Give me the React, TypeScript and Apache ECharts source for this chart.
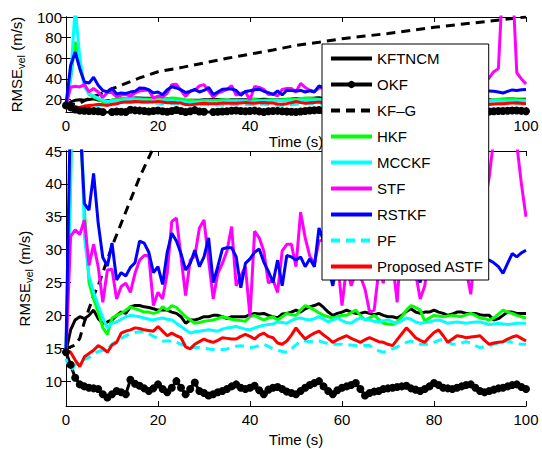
import React, { useEffect, useRef } from "react";
import * as echarts from "echarts";

// time axis (s)
const time = Array.from({ length: 101 }, (_, i) => i);

const kftncm = [14.5, 17.8, 19.3, 19.8, 19.5, 20, 20.8, 19.5, 18.8, 19, 19.3, 20, 20.5, 20.3, 21.3, 21.5, 21.5, 21.3, 21.2, 21, 20.8, 20.8, 20.8, 20.5, 20.3, 19.8, 18.8, 19.3, 19.3, 19.5, 19.8, 19.8, 20, 20, 19.8, 19.5, 19.8, 19.8, 19.8, 19.8, 20.1, 20.3, 20.2, 20.3, 20, 19.8, 19.6, 20.2, 20.3, 20.5, 20.8, 20.5, 21, 21.3, 21.5, 21.8, 21.2, 20.5, 20, 20.3, 20.5, 20.8, 20.5, 20.3, 20.3, 20.5, 20.3, 20.1, 20.3, 20, 19.8, 19.8, 19.6, 20, 20.6, 21, 20.5, 20.3, 20.5, 20.5, 20.8, 20.5, 20.3, 20, 20.2, 20.5, 20.5, 20.3, 20.3, 20.3, 20.1, 20, 20, 19.3, 19.5, 20, 20.5, 20.5, 20.3, 20.3, 20.3];
const okf = [14.4, 12.5, 10.5, 9.5, 9.2, 9, 8.9, 8.8, 8, 7.5, 8, 8.5, 8.3, 8, 10.2, 9.6, 9.3, 8.9, 8.5, 8.9, 9.5, 8.8, 8.3, 9, 10, 9, 8, 8.8, 9.8, 8.5, 8.2, 7.8, 8, 8.3, 8.5, 8.8, 9.2, 9.5, 9, 8.8, 9, 9.3, 8.6, 8, 8.7, 9, 9.1, 8.8, 8.4, 8.2, 8, 8.5, 9, 9.4, 9.7, 10, 9.2, 8.5, 8, 8.6, 9, 9.2, 9.4, 9.7, 8.8, 7.8, 8.2, 8.4, 8.5, 8.8, 8.9, 9, 9.1, 9.2, 9.3, 8.9, 8.7, 8.5, 8.8, 9.2, 9.7, 9.4, 9, 8.9, 8.8, 9, 9.2, 9.4, 9.5, 9, 8.5, 8.3, 8.5, 8.7, 8.9, 9, 9.2, 9.4, 9.5, 9.1, 8.8];
const kfgTime = [0, 1, 2, 3, 4, 5, 6, 7, 8, 9, 10, 12, 14, 16, 18, 20, 25, 30, 35, 40, 45, 50, 55, 60, 65, 70, 75, 80, 85, 90, 95, 100];
const kfg = [15, 15.2, 15.5, 16.5, 19, 21, 23, 24.5, 26.5, 28.5, 30.5, 34, 37.5, 41, 44, 47, 51, 55.5, 60, 64, 68, 72.5, 75.5, 79, 81.5, 84, 87, 90, 92.5, 95, 97.5, 100];
const hkf = [15, 40, 76, 50, 36, 25, 22.5, 20.5, 18.1, 17.1, 19.6, 20, 20.3, 20.8, 21.3, 21, 20.8, 20.5, 20.5, 20.3, 20.5, 21.3, 20.8, 21.5, 21.2, 20.5, 19.8, 19.3, 18.8, 18.9, 19.1, 19.2, 19.3, 19.5, 19.8, 19.6, 19.4, 19.3, 19.2, 19.1, 19.8, 20, 19.6, 19.3, 19.6, 19.8, 19.3, 19.8, 20.3, 20.1, 20, 20.8, 21.5, 21.2, 20.8, 20.4, 20, 19.8, 19.6, 19.8, 20, 20, 20.4, 20.8, 20, 19.3, 19.6, 20, 19.4, 18.8, 18.7, 18.6, 19, 19.8, 20.8, 21.5, 21.2, 20.8, 19.1, 19.6, 20, 19.9, 19.8, 19.9, 20, 19.9, 19.8, 20.1, 20.3, 20, 19.6, 19.5, 19.3, 19.6, 20.2, 20.8, 20.5, 20.3, 20, 19.8, 19.6];
const mcckf = [14, 40, 110, 60, 32, 26, 23.5, 21.5, 19.6, 18.1, 18.8, 19, 19.4, 19.8, 20, 19.9, 19.8, 19.6, 19.4, 19.3, 19.5, 19.6, 19.4, 19.3, 18.8, 18.3, 17.8, 17.3, 17.5, 17.6, 17.7, 17.8, 17.7, 17.6, 17.9, 18.1, 18.2, 18.3, 18.1, 17.9, 17.8, 18.1, 18.3, 18.5, 18.6, 18.7, 19, 18.9, 18.8, 19.2, 19.5, 19.6, 19.4, 19.3, 19.5, 19.8, 19.4, 19, 19.3, 19.6, 19.2, 18.9, 18.8, 19.3, 19.6, 19.4, 19.3, 19.1, 19, 19.2, 19.3, 19, 18.8, 19.2, 19.6, 19.4, 19, 18.8, 18.9, 19, 19.2, 19.3, 19.1, 18.8, 18.9, 19, 18.9, 18.8, 18.9, 19, 19, 18.8, 18.6, 18.7, 18.8, 18.7, 18.6, 18.7, 18.8, 18.8, 18.8];
const stf = [14, 32, 33, 32.3, 34.5, 27.6, 30.8, 27.4, 22, 26.9, 27, 22.5, 24.4, 24.9, 23.5, 26.4, 28.4, 29.1, 29.1, 21.5, 23.5, 22.5, 26.4, 34.3, 34.8, 28.9, 23, 28.4, 29, 33.3, 34.5, 28.4, 22.5, 26.4, 27.9, 29.8, 33.5, 24.5, 26, 27.4, 19.8, 32.8, 31.8, 29.8, 24.9, 25.4, 23.5, 29.8, 30.8, 30.8, 27.4, 35.7, 31.8, 29, 27.9, 31.3, 31.5, 31.8, 26.4, 28.4, 21.5, 27.4, 24.5, 26.4, 25.9, 24, 20.5, 20.8, 26.9, 24.9, 34.3, 28.1, 22, 33, 32.8, 30.3, 26.4, 22.5, 24.5, 30.3, 29.9, 31.3, 29.1, 30.5, 31.8, 28.4, 27.4, 26.9, 23.2, 30.8, 33.5, 37, 41, 47, 50, 140, 160, 140, 46, 40, 35];
const rstkf = [15, 53, 66, 50, 37, 36, 41.6, 34, 28.8, 27.5, 31, 25.4, 26.5, 26, 27.3, 28, 31.3, 31, 29.6, 26.5, 27.4, 24.7, 29.6, 32.5, 31.3, 29.4, 26.9, 27.9, 29.9, 27.4, 28.9, 31.8, 25, 27.4, 30.1, 30.3, 30.3, 28.9, 24.2, 27.9, 28.6, 29.6, 30.1, 28.1, 26.7, 25, 28.4, 24.5, 29.1, 28.9, 28.4, 28.9, 27.4, 28.6, 27.4, 33.3, 31.3, 27.4, 24.5, 27.9, 27.4, 32.5, 30.8, 28.9, 27.9, 26.5, 25.9, 27.4, 28.9, 29.4, 33.8, 27.9, 26.4, 27.4, 31.3, 29.9, 27, 25, 28.9, 27.4, 29.4, 31.3, 27.9, 29.4, 29.9, 28.4, 33.5, 29.4, 25.9, 28.9, 32.1, 28.6, 28.4, 28, 27.4, 26.4, 27.9, 29.4, 28.9, 29.5, 29.9];
const pf = [13.4, 11.5, 12.5, 13, 13.3, 13.6, 14.1, 14.5, 14.7, 14.8, 15.6, 16.1, 16.5, 16.9, 17.2, 17.4, 17.5, 17.6, 17.2, 16.8, 16.5, 16.1, 16.1, 16.1, 15.9, 15.6, 15.4, 15.1, 15.1, 15.1, 15, 14.9, 14.8, 14.7, 14.8, 14.9, 15.1, 15.3, 15.4, 15.2, 15.1, 15.2, 15.4, 15.6, 15.3, 14.9, 14.7, 14.5, 14.4, 14.9, 15.5, 16.1, 16.1, 16, 16.1, 16.1, 15.9, 15.7, 15.6, 15.6, 15.6, 15.5, 15.5, 15.4, 15.4, 15.4, 15.4, 15, 14.6, 14.4, 14.6, 14.9, 15.2, 15.6, 15.9, 16.1, 15.8, 15.6, 15.6, 15.6, 15.9, 16.2, 16.4, 16, 15.6, 15.6, 15.8, 16, 15.8, 15.4, 15.1, 15.2, 15.4, 15.6, 15.8, 16, 16.1, 15.9, 15.7, 15.6, 15.6];
const astf = [14.7, 14.4, 13.2, 12.2, 13.7, 14.2, 14.7, 15.4, 15, 14.4, 15.5, 15.9, 17.3, 17.6, 17.8, 18.1, 18, 17.8, 17.7, 17.6, 18.3, 17.6, 16.9, 17.3, 16.9, 16.6, 15.2, 14.9, 15.6, 16, 16.4, 16.1, 15.9, 16.2, 16.6, 16.5, 16.4, 16.4, 16.8, 17.1, 16.8, 16.4, 17, 17.3, 16.8, 16.6, 15.8, 15.6, 16.1, 17, 18.1, 17.2, 16.4, 16.9, 17.3, 17.6, 17, 16.5, 15.9, 16.3, 16.6, 16.9, 16.5, 16.2, 15.9, 16.3, 16.6, 16.3, 16, 15.9, 15.6, 15.4, 16.3, 17.2, 18.1, 17.4, 16.6, 16.2, 15.9, 16.7, 17.4, 17.8, 16.9, 15.9, 16.4, 16.9, 16.8, 16.6, 16.7, 16.8, 16.9, 16.2, 15.6, 15.8, 15.9, 16, 16.4, 16.7, 16.9, 16.5, 16.1];

const xTicks = [0, 20, 40, 60, 80, 100];
const yTicksTop = [20, 40, 60, 80, 100];
const yTicksBottom = [10, 15, 20, 25, 30, 35, 40, 45];

const seriesDefs = [
  { name: "KFTNCM", x: time, y: kftncm, color: "#000000", dash: null as number[] | null, marker: false },
  { name: "OKF", x: time, y: okf, color: "#000000", dash: null, marker: true },
  { name: "KF\u2013G", x: kfgTime, y: kfg, color: "#000000", dash: [9, 6], marker: false },
  { name: "HKF", x: time, y: hkf, color: "#00ff00", dash: null, marker: false },
  { name: "MCCKF", x: time, y: mcckf, color: "#00ffff", dash: null, marker: false },
  { name: "STF", x: time, y: stf, color: "#ff00ff", dash: null, marker: false },
  { name: "RSTKF", x: time, y: rstkf, color: "#0000ff", dash: null, marker: false },
  { name: "PF", x: time, y: pf, color: "#00ffff", dash: [9, 6], marker: false },
  { name: "Proposed ASTF", x: time, y: astf, color: "#ff0000", dash: null, marker: false },
];

const FONT = "Liberation Sans, Arial, Helvetica, sans-serif";

export default function App() {
  const ref = useRef<HTMLDivElement>(null);
  useEffect(() => {
    if (!ref.current) return;
    const chart = echarts.init(ref.current, null, { renderer: "svg" });

    const makeSeries = (g: number) =>
      seriesDefs.map((d) => ({
        type: "line",
        name: d.name,
        xAxisIndex: g * 2,
        yAxisIndex: g * 2,
        data: d.x.map((t, i) => [t, d.y[i]]),
        symbol: d.marker ? "circle" : "none",
        symbolSize: 8,
        showSymbol: d.marker,
        showAllSymbol: true,
        clip: true,
        silent: true,
        lineStyle: { color: d.color, width: 3, type: d.dash ? d.dash : "solid" },
        itemStyle: { color: d.color, borderWidth: 0 },
      }));

    const axisCommon = {
      axisLine: { show: true, lineStyle: { color: "#000", width: 1 } },
      axisTick: { show: true, inside: true, length: 5, lineStyle: { color: "#000", width: 1 } },
      splitLine: { show: false },
    };
    const labelStyle = { color: "#000", fontSize: 15, fontFamily: FONT };
    const yName = {
      name: "RMSE{sub|vel} (m/s)",
      nameLocation: "middle",
      nameRotate: 90,
      nameTextStyle: {
        color: "#000",
        fontSize: 15,
        fontFamily: FONT,
        rich: { sub: { fontSize: 11, fontFamily: FONT, color: "#000", padding: [9, 0, 0, 0] } },
      },
    };
    const xName = {
      name: "Time (s)",
      nameLocation: "middle",
      nameGap: 21,
      nameTextStyle: { color: "#000", fontSize: 15, fontFamily: FONT, verticalAlign: "top" },
    };

    const mkX = (g: number) => [
      { type: "value", gridIndex: g, min: 0, max: 100, interval: 20, position: "bottom", ...axisCommon,
        axisLabel: { ...labelStyle, margin: 6 }, ...xName },
      { type: "value", gridIndex: g, min: 0, max: 100, interval: 20, position: "top", ...axisCommon,
        axisLabel: { show: false } },
    ];
    const mkY = (g: number, min: number, max: number, ticks: number[], gap: number) => [
      { type: "value", gridIndex: g, min, max, position: "left", ...axisCommon,
        axisTick: { ...axisCommon.axisTick, customValues: ticks },
        axisLabel: { ...labelStyle, margin: 4, customValues: ticks },
        ...yName, nameGap: gap },
      { type: "value", gridIndex: g, min, max, position: "right", ...axisCommon,
        axisTick: { ...axisCommon.axisTick, customValues: ticks },
        axisLabel: { show: false, customValues: ticks } },
    ];

    chart.setOption({
      animation: false,
      backgroundColor: "#ffffff",
      textStyle: { fontFamily: FONT },
      grid: [
        { left: 66, right: 16, top: 17, height: 95, containLabel: false },
        { left: 66, right: 16, top: 151, height: 265, containLabel: false },
      ],
      xAxis: [...mkX(0), ...mkX(1)],
      yAxis: [...mkY(0, 8, 100, yTicksTop, 29), ...mkY(1, 6.2, 45, yTicksBottom, 31)],
      legend: {
        show: true,
        orient: "vertical",
        left: 322,
        top: 44,
        data: seriesDefs.map((d) => ({
          name: d.name,
          itemStyle: d.marker ? { color: d.color, opacity: 1 } : { opacity: 0 },
          lineStyle: { width: 4 },
        })),
        backgroundColor: "#ffffff",
        borderColor: "#000000",
        borderWidth: 1,
        borderRadius: 0,
        padding: [7, 5, 6, 7],
        itemWidth: 41,
        itemHeight: 9,
        itemGap: 11,
        selectedMode: false,
        textStyle: { color: "#000", fontSize: 15, fontFamily: FONT },
        z: 10,
      },
      series: [...makeSeries(0), ...makeSeries(1)],
    });
    return () => chart.dispose();
  }, []);
  return (
    <div
      ref={ref}
      style={{ position: "fixed", left: 0, top: 0, width: 542, height: 452, background: "#fff" }}
    />
  );
}
